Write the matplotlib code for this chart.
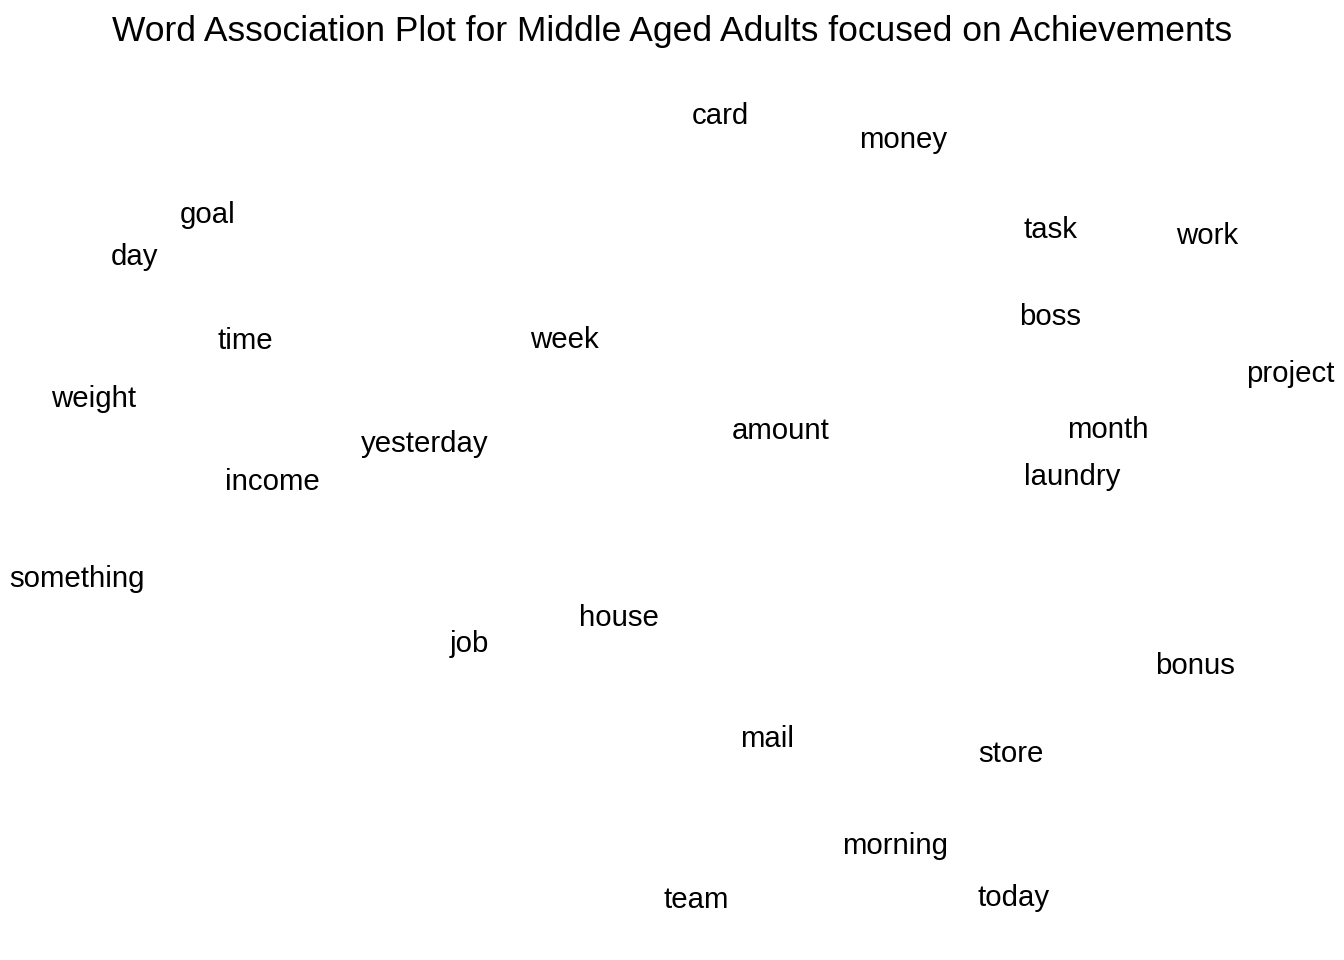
import matplotlib
matplotlib.use("Agg")
import matplotlib.pyplot as plt

plt.rcParams['font.family'] = ['Liberation Sans', 'DejaVu Sans']

words = ["card", "money", "goal", "day", "task", "work", "boss", "time", "week",
         "project", "weight", "amount", "month", "yesterday", "laundry", "income",
         "something", "house", "job", "bonus", "mail", "store", "morning", "team", "today"]
xs = [720, 903, 208, 134, 1051, 1207, 1050, 245, 564,
      1290, 94, 781, 1108, 425, 1072, 272,
      77, 619, 469, 1195, 767, 1011, 895, 696, 1014]
ys = [116, 140, 215, 257, 230, 236, 317, 341, 340,
      374, 399, 431, 430, 444, 477, 482,
      579, 618, 644, 666, 739, 754, 846, 900, 898]
title = "Word Association Plot for Middle Aged Adults focused on Achievements"

fig = plt.figure(figsize=(13.44, 9.6), dpi=100)
ax = fig.add_axes([0, 0, 1, 1])
ax.set_xlim(0, 1344)
ax.set_ylim(960, 0)
ax.axis('off')
for w, x, y in zip(words, xs, ys):
    ax.text(x, y, w, ha='center', va='center', fontsize=21.2, color='black')
fig.text(0.5, 1 - 31 / 960, title, ha='center', va='center', fontsize=25.5)
fig.savefig("out.png", dpi=100)
